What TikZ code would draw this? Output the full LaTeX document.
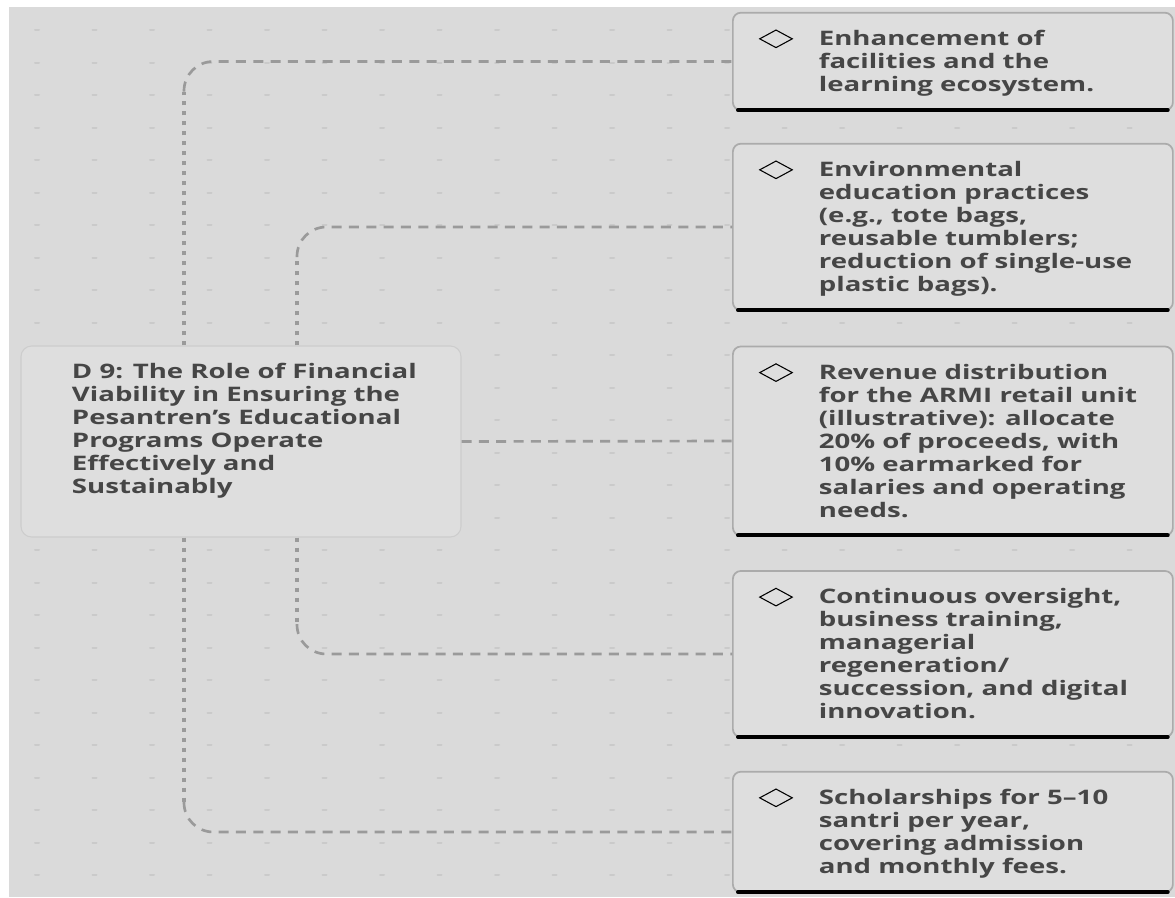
\documentclass[tikz,border=0pt]{standalone}
\usepackage{fontspec}
\setmainfont{Open Sans}[FakeStretch=1.38]
\usetikzlibrary{shapes.geometric,calc}
\definecolor{canvas}{HTML}{DADADA}
\definecolor{dotgray}{HTML}{CACACA}
\definecolor{boxfill}{HTML}{DEDEDE}
\definecolor{boxline}{HTML}{ABABAB}
\definecolor{rootline}{HTML}{CDCDCD}
\definecolor{inkgray}{HTML}{464646}
\definecolor{linkgray}{HTML}{9A9A9A}
\tikzset{
  griddot/.style={dotgray, line width=1.5pt, line cap=round},
  leaf/.style={draw=boxline, line width=1.3pt, fill=boxfill, rounded corners=6pt, anchor=west,
    inner xsep=0pt, inner ysep=10.5pt, text=inkgray, font=\bfseries\fontsize{15}{17.25}\selectfont},
  rootbox/.style={draw=rootline, line width=0.8pt, fill=boxfill, rounded corners=8pt,
    inner sep=0pt, minimum width=330pt, minimum height=143.25pt, text=inkgray,
    font=\bfseries\fontsize{15}{17.25}\selectfont},
  bullet/.style={diamond, draw=black, line width=0.8pt, inner sep=0pt, minimum width=24.75pt, minimum height=13.5pt},
  boxfoot/.style={black, line width=3pt, line cap=round},
  vlink/.style={linkgray, line width=2.8pt, dash pattern=on 3pt off 4.5pt},
  hlink/.style={linkgray, line width=2pt, dash pattern=on 7.5pt off 5.5pt, rounded corners=22pt}
}
\newcommand{\leaftext}[1]{\hspace*{64.5pt}\parbox{250.5pt}{\raggedright\rule{0pt}{14.1pt}#1\rule[-3.2pt]{0pt}{3.2pt}}\hspace*{15pt}}
\begin{document}
\begin{tikzpicture}[x=0.75pt, y=-0.75pt]
\useasboundingbox (0,0) rectangle (1175,897);
\fill[canvas] (9,7) rectangle (1175,897);
\foreach \i in {0,...,19}
  \foreach \j in {0,...,26}
    \draw[griddot] ({37+57.5*\i-2},{30+32.5*\j}) -- ++(4,0);

\coordinate (tA) at (184,0);
\coordinate (tB) at (297,0);

\node[leaf] (b1) at (732,61.5) {\leaftext{Enhancement of\\ facilities and the\\ learning ecosystem.}};
\node[leaf] (b2) at (732,227) {\leaftext{Environmental\\ education practices\\ (e.g., tote bags,\\ reusable tumblers;\\ reduction of single-use\\ plastic bags).}};
\node[leaf] (b3) at (732,441) {\leaftext{Revenue distribution\\ for the ARMI retail unit\\ (illustrative): allocate\\ 20\% of proceeds, with\\ 10\% earmarked for\\ salaries and operating\\ needs.}};
\node[leaf] (b4) at (732,654) {\leaftext{Continuous oversight,\\ business training,\\ managerial\\ regeneration/\\ succession, and digital\\ innovation.}};
\node[leaf] (b5) at (732,832) {\leaftext{Scholarships for 5--10\\ santri per year,\\ covering admission\\ and monthly fees.}};

\node[rootbox] (root) at (241,441.5) {\hspace*{38.25pt}\parbox[c][143.25pt][t]{280pt}{\raggedright\vspace*{12.2pt}\strut D 9: The Role of Financial\\ Viability in Ensuring the\\ Pesantren’s Educational\\ Programs Operate\\ Effectively and\\ Sustainably}\hspace*{11.75pt}};

\draw[vlink] (root.north -| tA) -- ($(tA |- b1.west)+(0,30)$);
\draw[hlink] ($(tA |- b1.west)+(0,30)$) |- (b1.west);
\draw[vlink] (root.north -| tB) -- ($(tB |- b2.west)+(0,30)$);
\draw[hlink] ($(tB |- b2.west)+(0,30)$) |- (b2.west);
\draw[hlink] (root.east) -- (b3.west);
\draw[vlink] (root.south -| tB) -- ($(tB |- b4.west)+(0,-30)$);
\draw[hlink] ($(tB |- b4.west)+(0,-30)$) |- (b4.west);
\draw[vlink] (root.south -| tA) -- ($(tA |- b5.west)+(0,-30)$);
\draw[hlink] ($(tA |- b5.west)+(0,-30)$) |- (b5.west);

\foreach \b in {b1,b2,b3,b4,b5}{
  \draw[boxfoot] ($(\b.south west)+(6,-1)$) -- ($(\b.south east)+(-6,-1)$);
  \node[bullet] at ($(\b.north west)+(44,27)$) {};
}
\end{tikzpicture}
\end{document}
